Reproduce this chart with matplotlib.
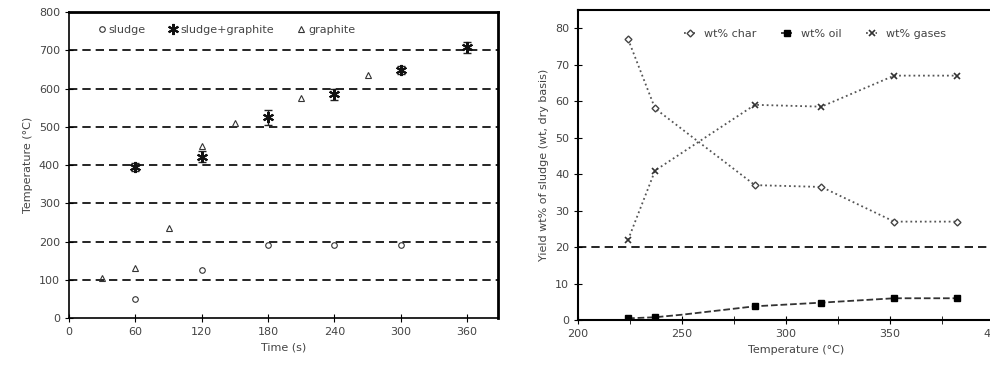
"""
  Temperature profiles and product yields, two panels
"""
import matplotlib
matplotlib.use('Agg')
import matplotlib.pyplot as plt

# left panel: temperature vs time
sludgeT = [60, 120, 180, 240, 300]
sludgeV = [50, 125, 190, 190, 190]
mixT = [60, 120, 180, 240, 300, 360]
mixV = [395, 422, 525, 585, 648, 708]
mixErr = [10, 15, 20, 15, 10, 15]
graphT = [30, 60, 90, 120, 150, 210, 270]
graphV = [105, 130, 235, 450, 510, 575, 635]

# right panel: yields vs temperature
temps = [224, 237, 285, 317, 352, 382]
charY = [77, 58, 37, 36.5, 27, 27]
gasY = [22, 41, 59, 58.5, 67, 67]
oilT = [224, 237, 250, 285, 317, 352, 382]
oilY = [0.5, 0.8, 1.5, 3.8, 4.8, 6, 6]

txt = '#444444'
plt.rcParams['font.family'] = ['DejaVu Sans']
plt.rcParams['font.size'] = 8

fig = plt.figure(figsize=(9.9, 3.68), dpi=100)

# ---- left panel
ax1 = fig.add_axes([0.0697, 0.136, 0.4333, 0.831])
for y in range(100, 800, 100):
  ax1.axhline(y, color='black', ls=(0, (5, 3)), lw=1.2, zorder=1)
ax1.plot(sludgeT, sludgeV, 'o', ms=4, mfc='none', mec='#333333', mew=0.8,
         ls='none', label='sludge', zorder=3)
ax1.errorbar(mixT, mixV, yerr=mixErr, fmt='none', ecolor='#222222', elinewidth=1,
             capsize=3, zorder=3)
ax1.plot(mixT, mixV, marker=(6, 2, 0), ms=8, mec='#111111', mew=1.5,
         ls='none', label='sludge+graphite', zorder=4)
ax1.plot(graphT, graphV, '^', ms=4, mfc='none', mec='#333333', mew=0.8,
         ls='none', label='graphite', zorder=3)
ax1.set_xlim(0, 388)
ax1.set_ylim(0, 800)
ax1.set_xticks([0, 60, 120, 180, 240, 300, 360])
ax1.set_yticks(range(0, 801, 100))
ax1.tick_params(direction='inout', length=6, colors='black', labelcolor=txt)
for s in ['left', 'bottom']:
  ax1.spines[s].set_linewidth(1.2)
for s in ['top', 'right']:
  ax1.spines[s].set_linewidth(2)
ax1.set_xlabel('Time (s)', color=txt)
ax1.set_ylabel('Temperature (°C)', color=txt)
ax1.legend(loc='upper left', ncol=3, frameon=False, handletextpad=0.1,
           columnspacing=2.0, handlelength=1, bbox_to_anchor=(0.04, 0.99),
           labelcolor=txt)

# ---- right panel
ax2 = fig.add_axes([0.584, 0.130, 0.441, 0.843])
ax2.axhline(20, color='black', ls=(0, (5, 3)), lw=1.2, zorder=1)
ax2.plot(temps, charY, ls=':', color='#555555', lw=1.3, marker='D', ms=3.5,
         mfc='white', mec='#444444', label='wt% char')
ax2.plot(oilT, oilY, ls='--', color='#333333', lw=1.3, marker='s', ms=4,
         markevery=[0, 1, 3, 4, 5, 6], mfc='black', mec='black', label='wt% oil')
ax2.plot(temps, gasY, ls=':', color='#555555', lw=1.3, marker='x', ms=4,
         mec='#333333', mew=1.2, label='wt% gases')
ax2.set_xlim(200, 410)
ax2.set_ylim(0, 85)
ax2.set_xticks([200, 250, 300, 350, 400])
ax2.set_xticks([225, 275, 325, 375], minor=True)
ax2.set_yticks(range(0, 81, 10))
ax2.tick_params(which='both', direction='inout', length=6, colors='black',
                labelcolor=txt)
for s in ax2.spines.values():
  s.set_linewidth(1.5)
ax2.set_xlabel('Temperature (°C)', color=txt)
ax2.set_ylabel('Yield wt% of sludge (wt, dry basis)', color=txt)
ax2.legend(loc='upper left', ncol=3, frameon=False, handletextpad=0.8,
           columnspacing=2.2, handlelength=1, bbox_to_anchor=(0.22, 0.97),
           labelcolor=txt)

plt.savefig('out.png', dpi=100)
